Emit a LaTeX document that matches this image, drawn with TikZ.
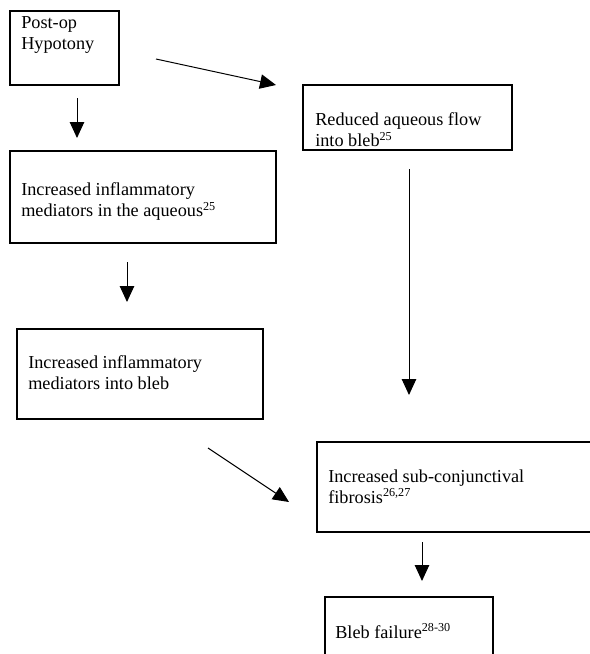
\documentclass[tikz,border=0pt]{standalone}
\usepackage{fontspec}
\setmainfont{Liberation Serif}
\usetikzlibrary{arrows.meta, fit}

\begin{document}
\begin{tikzpicture}[x=0.658pt, y=-0.658pt,
  box/.style={draw, line width=0.7pt, inner sep=0pt},
  txt/.style={anchor=north west, align=left, inner sep=0pt, font=\fontsize{12}{13.8}\selectfont},
  flow/.style={-{Triangle[length=10.5pt, width=9.5pt]}, line width=0.65pt}]
  \useasboundingbox (0,0) rectangle (590,654);

  % boxes
  \node[box, fit={(10,11) (119,85)}] (hypotony) {};
  \node[box, fit={(303,85) (512,150)}] (reduced) {};
  \node[box, fit={(10,151) (276,243)}] (aqueous) {};
  \node[box, fit={(17,329) (263,419)}] (blebmed) {};
  \node[box, fit={(317,442) (605,532)}] (fibrosis) {};
  \node[box, fit={(325,597) (493,670)}] (failure) {};

  % texts
  \node[txt] (hypotony-txt) at (21,16.5) {Post-op\\Hypotony};
  \node[txt] (reduced-txt) at (315,112.5) {Reduced aqueous flow\\into bleb\textsuperscript{25}};
  \node[txt] (aqueous-txt) at (21,182.5) {Increased inflammatory\\mediators in the aqueous\textsuperscript{25}};
  \node[txt] (blebmed-txt) at (28,355.5) {Increased inflammatory\\mediators into bleb};
  \node[txt] (fibrosis-txt) at (328,469.5) {Increased sub-conjunctival\\fibrosis\textsuperscript{26,27}};
  \node[txt] (failure-txt) at (335,623.5) {Bleb failure\textsuperscript{28-30}};

  % arrow ends
  \coordinate (hyp-right) at (156,59);
  \coordinate (red-in) at (276,85);
  \coordinate (hyp-down) at (77,98);
  \coordinate (aq-in) at (77,138);
  \coordinate (aq-down) at (127,262);
  \coordinate (bm-in) at (127,302);
  \coordinate (red-down) at (409,169);
  \coordinate (fib-top) at (409,395);
  \coordinate (bm-out) at (208,448);
  \coordinate (fib-left) at (289,502);
  \coordinate (fib-down) at (422,542);
  \coordinate (fail-in) at (422,581);

  \draw[flow] (hyp-right) -- (red-in);
  \draw[flow] (hyp-down) -- (aq-in);
  \draw[flow] (aq-down) -- (bm-in);
  \draw[flow] (red-down) -- (fib-top);
  \draw[flow] (bm-out) -- (fib-left);
  \draw[flow] (fib-down) -- (fail-in);
\end{tikzpicture}
\end{document}
